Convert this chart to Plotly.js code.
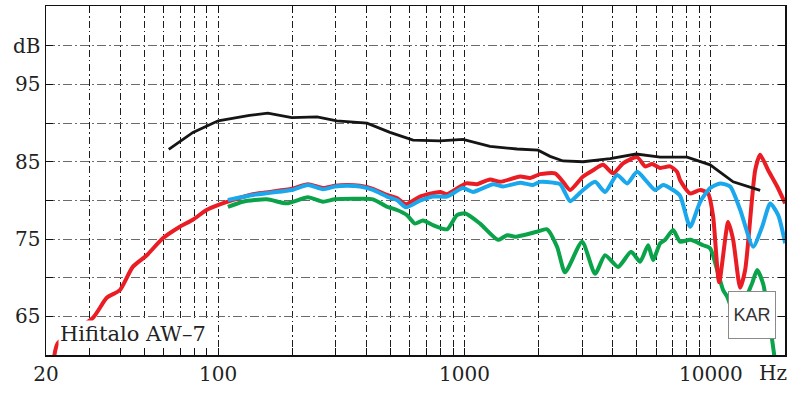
<!DOCTYPE html>
<html><head><meta charset="utf-8">
<script src="https://cdn.plot.ly/plotly-3.0.1.min.js"></script>
<style>html,body{margin:0;padding:0;background:#fff}#chart{width:800px;height:394px}</style>
</head><body><div id="chart"></div>
<script>
// Black curve
const blackFreq = [63, 79, 100, 134, 159, 199, 252, 303, 402, 498, 618, 795, 986, 1269, 1634, 1989, 2225, 2513, 3029, 3899, 4974, 6225, 8011, 9934, 12319, 15857];
const blackDb = [86.6, 88.8, 90.3, 91.0, 91.3, 90.7, 90.8, 90.3, 90.0, 88.8, 87.8, 87.7, 87.9, 87.0, 86.65, 86.5, 85.7, 85.1, 85.0, 85.4, 86.0, 85.6, 85.6, 84.6, 82.4, 81.3];

// Red curve
const redFreq = [21.5, 22.3, 31.0, 35.3, 39.9, 45.0, 51.3, 59.6, 69.9, 78.9, 90.0, 99.7, 109.5, 138.3, 162.2, 199.2, 231.3, 266.2, 297.9, 333.3, 376.3, 424.9, 484.4, 531.8, 578.5, 659.5, 795.4, 849.2, 1014, 1124, 1269, 1394, 1681, 1845, 2026, 2331, 2513, 2683, 3029, 3326, 3651, 4010, 4404, 5021, 5409, 5775, 6225, 6833, 7297, 7504, 8239, 9047, 9750, 10217, 10806, 11757, 12319, 13152, 13783, 15133, 15857, 17088, 18590, 20035];
const redDb = [59.4, 61.5, 64.8, 67.4, 68.4, 71.4, 72.9, 75.1, 76.6, 77.5, 78.8, 79.4, 79.85, 80.8, 81.1, 81.5, 82.1, 81.6, 81.9, 82.0, 81.9, 81.5, 80.7, 80.3, 79.5, 80.5, 81.1, 80.8, 82.2, 82.1, 82.7, 82.4, 83.1, 82.9, 83.4, 83.5, 82.4, 81.35, 83.1, 83.9, 84.6, 83.5, 84.8, 85.6, 84.4, 84.7, 84.2, 84.4, 83.7, 82.6, 80.9, 81.35, 80.9, 77.9, 69.4, 77.2, 74.9, 68.7, 71.0, 83.9, 85.9, 83.9, 81.8, 79.6];

// Blue curve
const blueFreq = [109.5, 138.3, 162.2, 199.2, 231.3, 266.2, 297.9, 333.3, 376.3, 424.9, 484.4, 531.8, 578.5, 659.5, 744.8, 849.2, 986, 1083, 1306, 1434, 1681, 1898, 2026, 2288, 2443, 2560, 2683, 3029, 3388, 3721, 4163, 4571, 5021, 5511, 5939, 6401, 7028, 7504, 8239, 9047, 9934, 10912, 11979, 13152, 14853, 16156, 17412, 18766, 20035];
const blueDb = [80.05, 80.7, 81.0, 81.35, 82.0, 81.45, 81.8, 81.9, 81.8, 81.35, 80.5, 80.05, 79.1, 79.96, 80.5, 80.5, 81.6, 81.1, 82.1, 81.8, 82.3, 82.0, 82.4, 82.3, 82.1, 81.0, 79.9, 81.35, 82.4, 81.1, 83.3, 82.2, 83.7, 82.4, 81.35, 82.0, 81.35, 80.6, 76.6, 79.8, 81.6, 82.2, 81.8, 78.8, 74.0, 76.6, 79.6, 78.1, 74.45];

// Green curve
const greenFreq = [109.5, 126.0, 157.7, 190.1, 231.3, 266.2, 297.9, 376.3, 424.9, 484.4, 531.8, 583.9, 629.4, 678.3, 744.8, 849.2, 932.2, 1005, 1156, 1368, 1488, 1604, 1729, 1970, 2163, 2375, 2560, 3001, 3388, 3721, 4202, 4746, 5163, 5563, 5829, 6225, 6523, 7028, 7504, 8239, 9305, 9934, 10606, 11218, 11647, 12205, 12908, 13783, 14716, 15418, 16308, 16771, 17742, 18245];
const greenDb = [79.15, 79.83, 80.14, 79.62, 80.4, 79.83, 80.14, 80.2, 80.14, 79.18, 78.76, 78.1, 77.0, 77.4, 76.8, 76.26, 78.1, 78.33, 77.0, 74.9, 75.5, 75.3, 75.5, 75.95, 76.26, 74.0, 70.7, 74.66, 70.5, 72.9, 71.4, 73.36, 72.07, 74.2, 72.3, 74.45, 74.9, 76.17, 74.66, 74.9, 74.2, 73.8, 71.0, 68.4, 67.54, 65.8, 63.9, 67.1, 69.3, 71.0, 69.2, 67.1, 61.9, 59.1];

// Axis ticks
const xTickVals = [20, 30, 40, 50, 60, 70, 80, 90, 100, 200, 300, 400, 500, 600, 700, 800, 900, 1000, 2000, 3000, 4000, 5000, 6000, 7000, 8000, 9000, 10000];
const xTickText = ['20', '', '', '', '', '', '', '', '100', '', '', '', '', '', '', '', '', '1000', '', '', '', '', '', '', '', '', '10000'];
const yTickVals = [60, 65, 70, 75, 80, 85, 90, 95, 100];
const yTickText = ['', '65', '', '75', '', '85', '', '95', 'dB'];

const SERIF = 'DejaVu Serif, serif';

const traces = [
  {x: greenFreq, y: greenDb, mode: 'lines', line: {color: '#0aa34a', width: 4, shape: 'spline', smoothing: 0.6}, hoverinfo: 'skip'},
  {x: redFreq, y: redDb, mode: 'lines', line: {color: '#ea1c24', width: 4, shape: 'spline', smoothing: 0.6}, hoverinfo: 'skip'},
  {x: blueFreq, y: blueDb, mode: 'lines', line: {color: '#1aa7ec', width: 4, shape: 'spline', smoothing: 0.6}, hoverinfo: 'skip'},
  {x: blackFreq, y: blackDb, mode: 'lines', line: {color: '#151515', width: 2.8}, hoverinfo: 'skip'}
];

const layout = {
  width: 800, height: 394,
  margin: {l: 46, r: 15, t: 6, b: 39},
  paper_bgcolor: '#fff', plot_bgcolor: '#fff',
  showlegend: false,
  xaxis: {
    type: 'log', range: [Math.log10(20), Math.log10(20000)],
    tickmode: 'array', tickvals: xTickVals, ticktext: xTickText,
    ticks: 'inside', ticklen: 7, tickcolor: '#111', tickwidth: 1,
    showline: true, linecolor: '#111', linewidth: 1.5, mirror: 'ticks',
    showgrid: true, gridcolor: '#1e1e1e', gridwidth: 1, griddash: '7px,3px,1.5px,3px',
    zeroline: false,
    tickfont: {family: SERIF, size: 20, color: '#222'}
  },
  yaxis: {
    range: [60, 105.15],
    tickmode: 'array', tickvals: yTickVals, ticktext: yTickText,
    ticks: 'inside', ticklen: 7, tickcolor: '#111', tickwidth: 1,
    showline: true, linecolor: '#111', linewidth: 1.5, mirror: 'ticks',
    showgrid: true, gridcolor: '#6a6a6a', gridwidth: 1, griddash: '9px,3px,2px,3px',
    zeroline: false,
    tickfont: {family: SERIF, size: 20, color: '#222'}
  },
  annotations: [
    {text: 'Hifitalo AW–7', xref: 'paper', yref: 'paper', x: 0.0162, y: 0.060, xanchor: 'left', yanchor: 'middle',
     showarrow: false, bgcolor: '#fff', borderpad: 1, font: {family: SERIF, size: 21, color: '#222'}},
    {text: 'KAR', xref: 'paper', yref: 'paper', x: 0.956, y: 0.1135, xanchor: 'center', yanchor: 'middle',
     showarrow: false, bgcolor: '#fff', bordercolor: '#8a8a8a', borderwidth: 1, borderpad: 0, width: 46, height: 46,
     font: {family: 'Liberation Sans, Arial, sans-serif', size: 18, color: '#333'}},
    {text: 'Hz', xref: 'paper', yref: 'paper', x: 0.9838, y: -0.053, xanchor: 'center', yanchor: 'middle',
     showarrow: false, font: {family: SERIF, size: 20, color: '#222'}}
  ]
};

Plotly.newPlot('chart', traces, layout, {staticPlot: true, displayModeBar: false});
</script>
</body></html>
